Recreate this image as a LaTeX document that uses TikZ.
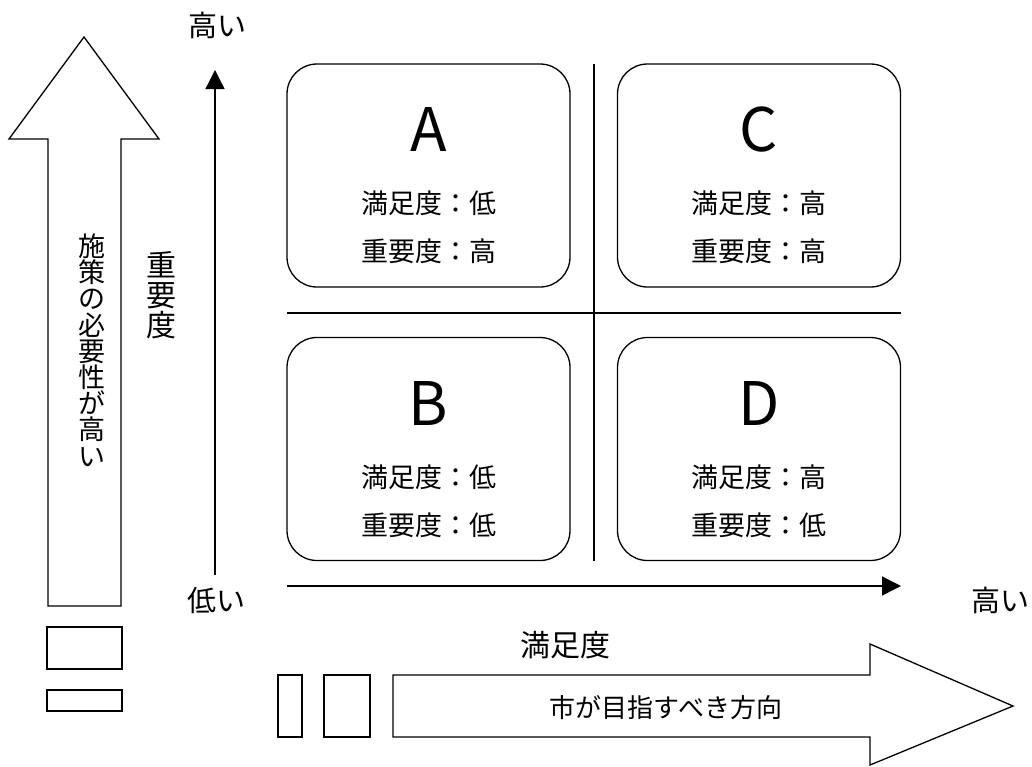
\documentclass[tikz,border=0pt]{standalone}
\usepackage{fontspec}
\setmainfont{Noto Sans CJK JP}
\usetikzlibrary{arrows.meta}

\begin{document}
\begin{tikzpicture}[x=1pt, y=-1pt, line width=1.3pt,
                    quad/.style={draw, rounded corners=30pt, minimum width=283pt, minimum height=223pt, inner sep=0pt},
                    letter/.style={font=\fontsize{60}{60}\selectfont, inner sep=0pt},
                    info/.style={font=\fontsize{27}{27}\selectfont, inner sep=0pt},
                    axis/.style={-{Triangle[length=19pt,width=19pt]}}]

                    \useasboundingbox (0,0) rectangle (1032,766);

                    % Four quadrants
                    \node[quad] (A) at (428.5,175.5) {}; % low satisfaction, high importance
                    \node[quad] (C) at (759,175.5) {};   % high satisfaction, high importance
                    \node[quad] (B) at (428.5,449) {};   % low satisfaction, low importance
                    \node[quad] (D) at (759,449) {};     % high satisfaction, low importance

                    % Texts inside the quadrants
                    \node[letter] (a0) at (428.5,130) {A};
                    \node[info] (a1) at (428.5,203) {満足度：低};
                    \node[info] (a2) at (428.5,251) {重要度：高};
                    \node[letter] (c0) at (759,130) {C};
                    \node[info] (c1) at (759,203) {満足度：高};
                    \node[info] (c2) at (759,251) {重要度：高};
                    \node[letter] (b0) at (428.5,404) {B};
                    \node[info] (b1) at (428.5,477) {満足度：低};
                    \node[info] (b2) at (428.5,525) {重要度：低};
                    \node[letter] (d0) at (759,404) {D};
                    \node[info] (d1) at (759,477) {満足度：高};
                    \node[info] (d2) at (759,525) {重要度：低};

                    % Divider lines
                    \coordinate (vtop) at (594,64);
                    \coordinate (vbot) at (594,561);
                    \coordinate (hleft) at (287,313);
                    \coordinate (hright) at (901,313);
                    \draw (vtop) -- (vbot);
                    \draw (hleft) -- (hright);

                    % Axes
                    \coordinate (ybot) at (215,575);
                    \coordinate (ytop) at (215,70);
                    \coordinate (xleft) at (287,586);
                    \coordinate (xright) at (901,586);
                    \draw[axis] (ybot) -- (ytop);
                    \draw[axis] (xleft) -- (xright);

                    % Axis labels
                    \node[info, font=\fontsize{29}{29}\selectfont] (yhigh) at (217,25) {高い};
                    \node[info, font=\fontsize{29}{29}\selectfont] (xlow) at (216,600) {低い};
                    \node[info, font=\fontsize{29}{29}\selectfont] (xhigh) at (1000,600) {高い};
                    \node[info, align=center, font=\fontsize{30}{30}\selectfont] (ylabel) at (161,295) {重\\要\\度};
                    \node[info, font=\fontsize{30}{30}\selectfont] (xlabel) at (565,645) {満足度};

                    % Big arrow on the left
                    \draw (84,37) -- (159,139) -- (121,139) -- (121,606) -- (48,606) -- (48,139) -- (9,139) -- cycle;
                    \draw (47,627) rectangle (122,669);
                    \draw (47,690) rectangle (122,711);
                    \node[info, align=center, font=\fontsize{27}{26.2}\selectfont] (need) at (91.5,350) {施\\策\\の\\必\\要\\性\\が\\高\\い};

                    % Big arrow at the bottom
                    \draw (393,675) -- (870,675) -- (870,644) -- (1013,706) -- (870,765) -- (870,737) -- (393,737) -- cycle;
                    \draw (278,675) rectangle (302,737);
                    \draw (324,675) rectangle (370,737);
                    \node[info, font=\fontsize{26}{26}\selectfont] (aim) at (666,708) {市が目指すべき方向};
                \end{tikzpicture}
\end{document}
